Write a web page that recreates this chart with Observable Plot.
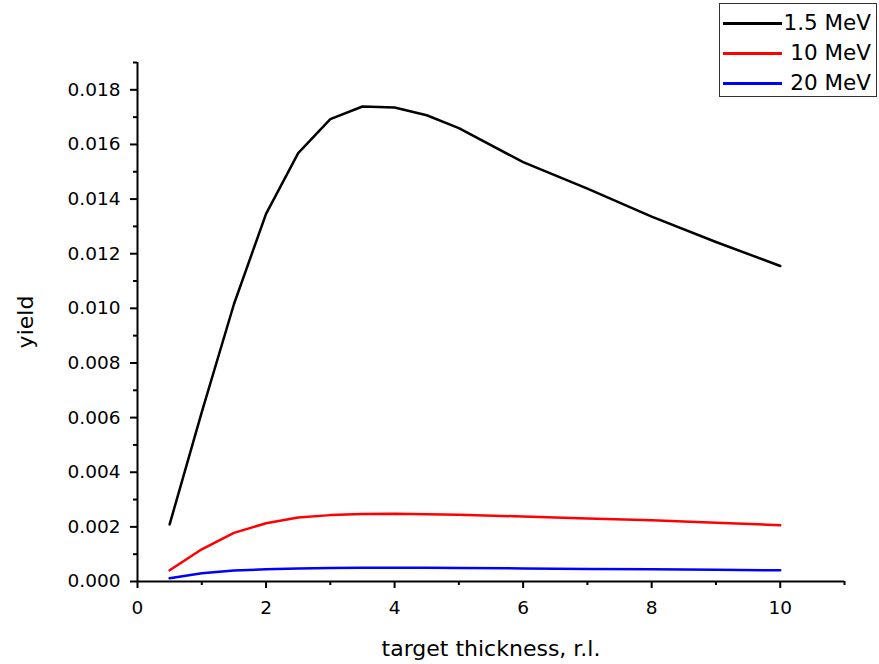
<!DOCTYPE html>
<html>
<head>
<meta charset="utf-8">
<script src="https://cdn.jsdelivr.net/npm/d3@7"></script>
<script src="https://cdn.jsdelivr.net/npm/@observablehq/plot@0.6"></script>
<style>
  html, body { margin: 0; padding: 0; background: #fff; }
  #wrap { position: relative; width: 879px; height: 664px; font-family: "DejaVu Sans", "Liberation Sans", Arial, sans-serif; }
  #legend { position: absolute; left: 719px; top: 3px; width: 156px; height: 92px; border: 1px solid #333; background: #fff; }
  .row { position: absolute; left: 3px; right: 5px; height: 30px; }
  .row .sw { position: absolute; left: 0; top: 14px; width: 59px; height: 2.5px; }
  .row .lb { position: absolute; right: 0; top: 1px; font-size: 21.5px; line-height: 28px; color: #000; white-space: nowrap; }
</style>
</head>
<body>
<div id="wrap"><div id="chart"></div><div id="legend"></div></div>
<script>
const thickness = [0.5, 1, 1.5, 2, 2.5, 3, 3.5, 4, 4.5, 5, 6, 7, 8, 9, 10];
const yield15MeV = [0.00209, 0.0062, 0.01015, 0.01346, 0.01568, 0.01693, 0.01739, 0.01735, 0.01707, 0.0166, 0.01535, 0.01438, 0.01336, 0.01243, 0.01155];
const yield10MeV = [0.00041, 0.00118, 0.00178, 0.00213, 0.00234, 0.00243, 0.00247, 0.00248, 0.00246, 0.00244, 0.00238, 0.00231, 0.00224, 0.00215, 0.00206];
const yield20MeV = [0.00012, 0.0003, 0.0004, 0.00045, 0.00048, 0.00049, 0.0005, 0.0005, 0.0005, 0.00049, 0.00048, 0.00046, 0.00045, 0.00043, 0.00041];
const seriesNames = ["1.5 MeV", "10 MeV", "20 MeV"];
const seriesColors = ["#000000", "#ff0000", "#0000ff"];
const xMajorTicks = [0, 2, 4, 6, 8, 10];
const xMinorTicks = [1, 3, 5, 7, 9, 11];
const yMajorTicks = [0, 0.002, 0.004, 0.006, 0.008, 0.010, 0.012, 0.014, 0.016, 0.018];
const yMinorTicks = [0.001, 0.003, 0.005, 0.007, 0.009, 0.011, 0.013, 0.015, 0.017, 0.019];
const xLabel = "target thickness, r.l.";
const yLabel = "yield";

const allSeries = [yield15MeV, yield10MeV, yield20MeV];
const data = allSeries.flatMap((vals, i) => thickness.map((t, j) => ({x: t, y: vals[j], s: seriesNames[i]})));

const chart = Plot.plot({
  width: 879,
  height: 664,
  marginLeft: 137,
  marginRight: 35,
  marginTop: 62,
  marginBottom: 83,
  style: {fontFamily: "'DejaVu Sans', 'Liberation Sans', Arial, sans-serif", fontSize: "18.5px", color: "#000", background: "#fff"},
  x: {domain: [0, 11], label: null},
  y: {domain: [0, 0.019], label: null},
  color: {domain: seriesNames, range: seriesColors},
  marks: [
    Plot.line(data, {x: "x", y: "y", z: "s", stroke: "s", strokeWidth: 2.5}),
    Plot.axisX({ticks: xMajorTicks, tickSize: 7, tickPadding: 12, tickFormat: d => String(d), strokeWidth: 2, fontSize: 18.5}),
    Plot.axisX({ticks: xMinorTicks, tickSize: 4, tickFormat: () => "", strokeWidth: 2}),
    Plot.axisY({ticks: yMajorTicks, tickSize: 7, tickPadding: 10, tickFormat: d3.format(".3f"), strokeWidth: 2, fontSize: 18.5}),
    Plot.axisY({ticks: yMinorTicks, tickSize: 4, tickFormat: () => "", strokeWidth: 2}),
    Plot.ruleY([0], {strokeWidth: 2}),
    Plot.ruleX([0], {strokeWidth: 2}),
    Plot.text([xLabel], {frameAnchor: "bottom", textAnchor: "middle", lineAnchor: "middle", dy: 67, fontSize: 22}),
    Plot.text([yLabel], {frameAnchor: "left", textAnchor: "middle", lineAnchor: "middle", rotate: -90, dx: -112, fontSize: 22})
  ]
});
chart.style.display = "block";
document.getElementById("chart").appendChild(chart);

const legend = document.getElementById("legend");
seriesNames.forEach((name, i) => {
  const row = document.createElement("div");
  row.className = "row";
  row.style.top = (4 + i * 30) + "px";
  const sw = document.createElement("div");
  sw.className = "sw";
  sw.style.background = seriesColors[i];
  const lb = document.createElement("div");
  lb.className = "lb";
  lb.textContent = name;
  row.appendChild(sw);
  row.appendChild(lb);
  legend.appendChild(row);
});
</script>
</body>
</html>
